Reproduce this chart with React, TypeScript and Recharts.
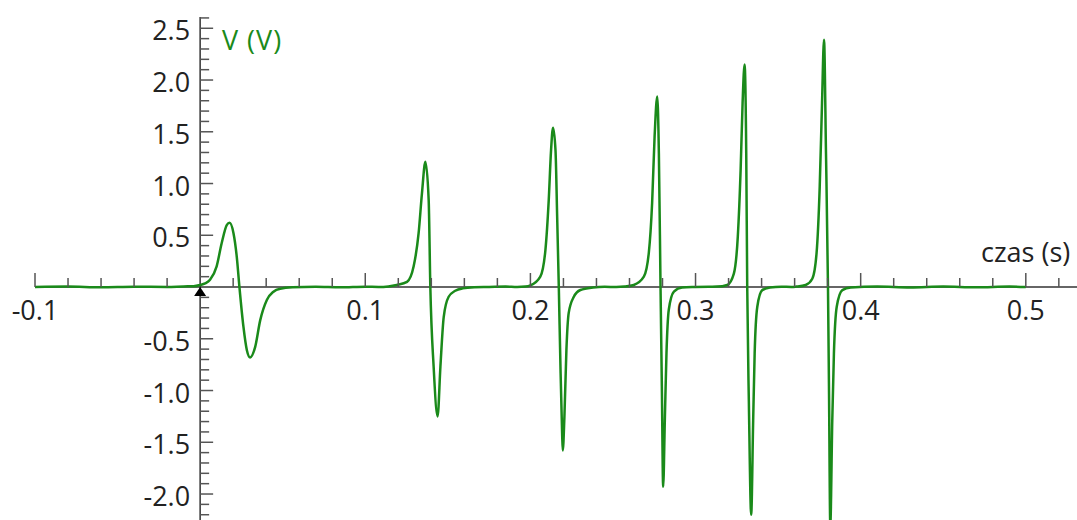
import React from 'react';
import { LineChart, Line, XAxis, YAxis, ReferenceLine, ReferenceDot } from 'recharts';

// time (s), voltage (V)
const baselineBefore = [
  [-0.1, 0.0], [-0.08, 0.004], [-0.06, -0.002], [-0.04, 0.003], [-0.02, 0.0], [-0.01, 0.006], [-0.004, 0.008],
];
const pulse1 = [
  [0.0, 0.02], [0.003, 0.035], [0.006, 0.07], [0.01, 0.2], [0.013, 0.42], [0.0162, 0.6], [0.0178, 0.62],
  [0.0202, 0.52], [0.0222, 0.29], [0.0238, 0.0], [0.0262, -0.38], [0.0283, -0.61], [0.0303, -0.68],
  [0.0333, -0.58], [0.0364, -0.32], [0.0404, -0.125], [0.0444, -0.045], [0.0485, -0.016], [0.056, -0.003],
];
const baselineGap1 = [[0.07, 0.002], [0.085, -0.003], [0.1, 0.003], [0.108, 0.0]];
const pulse2 = [
  [0.114, 0.006], [0.119, 0.02], [0.1253, 0.05], [0.1293, 0.2], [0.1323, 0.52], [0.1343, 0.9], [0.1364, 1.21],
  [0.1384, 0.84], [0.1394, 0.0], [0.1414, -0.77], [0.1438, -1.25], [0.1455, -0.77], [0.1475, -0.29],
  [0.1505, -0.094], [0.1545, -0.036], [0.159, -0.013], [0.166, -0.003],
];
const baselineGap2 = [[0.175, 0.0], [0.185, 0.004], [0.192, 0.0]];
const pulse3 = [
  [0.197, 0.004], [0.2, 0.015], [0.206, 0.1], [0.2091, 0.36], [0.2111, 0.84], [0.2125, 1.32], [0.2137, 1.54],
  [0.2152, 1.32], [0.2162, 0.68], [0.2172, 0.0], [0.2182, -0.77], [0.2192, -1.41], [0.2196, -1.58],
  [0.2206, -1.25], [0.2218, -0.61], [0.2232, -0.25], [0.2263, -0.094], [0.2303, -0.029], [0.238, -0.005],
];
const baselineGap3 = [[0.245, 0.002], [0.252, 0.0]];
const pulse4 = [
  [0.257, 0.004], [0.2626, 0.02], [0.2687, 0.1], [0.2717, 0.33], [0.2737, 0.81], [0.2752, 1.45], [0.2768, 1.84],
  [0.2778, 1.29], [0.2788, 0.0], [0.2796, -0.96], [0.2804, -1.93], [0.2814, -1.29], [0.2824, -0.64],
  [0.2838, -0.22], [0.2869, -0.045], [0.2919, -0.005],
];
const baselineGap4 = [[0.3, 0.0], [0.308, 0.003]];
const pulse5 = [
  [0.313, 0.004], [0.3192, 0.02], [0.3232, 0.13], [0.3256, 0.49], [0.3273, 1.13], [0.3285, 1.78], [0.3297, 2.15],
  [0.3307, 1.29], [0.3313, 0.0], [0.3323, -1.12], [0.3337, -2.2], [0.3349, -1.29], [0.3358, -0.64],
  [0.3374, -0.19], [0.3404, -0.03], [0.345, -0.005],
];
const baselineGap5 = [[0.352, 0.003], [0.358, 0.0]];
const pulse6 = [
  [0.361, 0.004], [0.3667, 0.02], [0.3707, 0.08], [0.3733, 0.33], [0.3752, 0.97], [0.3766, 1.78], [0.3778, 2.39],
  [0.379, 1.29], [0.3802, 0.0], [0.3808, -0.96], [0.3816, -2.3], [0.3828, -1.29], [0.3838, -0.64],
  [0.3855, -0.19], [0.3889, -0.03], [0.394, -0.005],
];
const baselineAfter = [
  [0.41, 0.004], [0.43, -0.004], [0.45, 0.005], [0.47, -0.003], [0.49, 0.004], [0.5, 0.0],
];

const xMajorTicks = [-0.1, 0.1, 0.2, 0.3, 0.4, 0.5];
const xMinorTicks = [
  -0.08, -0.06, -0.04, -0.02, 0.02, 0.04, 0.06, 0.08, 0.12, 0.14, 0.16, 0.18, 0.22, 0.24, 0.26, 0.28,
  0.32, 0.34, 0.36, 0.38, 0.42, 0.44, 0.46, 0.48, 0.52,
];
const yMajorTicks = ['2.5', '2.0', '1.5', '1.0', '0.5', '-0.5', '-1.0', '-1.5', '-2.0'];
const yMinorTicks = [
  2.6, 2.4, 2.3, 2.2, 2.1, 1.9, 1.8, 1.7, 1.6, 1.4, 1.3, 1.2, 1.1, 0.9, 0.8, 0.7, 0.6, 0.4, 0.3, 0.2, 0.1,
  -0.1, -0.2, -0.3, -0.4, -0.6, -0.7, -0.8, -0.9, -1.1, -1.2, -1.3, -1.4, -1.6, -1.7, -1.8, -1.9,
  -2.1, -2.2,
];

const GREEN = '#1a8a1a';
const FONT = '"Open Sans", sans-serif';
const FS = 27;

const data = [
  ...baselineBefore, ...pulse1, ...baselineGap1, ...pulse2, ...baselineGap2, ...pulse3, ...baselineGap3,
  ...pulse4, ...baselineGap4, ...pulse5, ...baselineGap5, ...pulse6, ...baselineAfter,
].map(([t, v]) => ({ t, v }));

const App = () => {
  return (
    <div style={{ position: 'absolute', left: 0, top: 0, width: 1077, height: 520, background: '#fff' }}>
      <LineChart width={1077} height={520} data={data} margin={{ top: 17, right: 0, bottom: 0, left: 35 }}>
        <XAxis type="number" dataKey="t" domain={[-0.1, 0.531]} hide allowDataOverflow />
        <YAxis type="number" domain={[-2.251, 2.609]} hide allowDataOverflow />

        <ReferenceLine y={0} stroke="#333" strokeWidth={1.5} />
        <ReferenceLine x={0} stroke="#333" strokeWidth={1.5} />

        {xMinorTicks.map(t => (
          <ReferenceDot key={`xm${t}`} x={t} y={0} ifOverflow="visible"
            shape={(p: any) => <line x1={p.cx} x2={p.cx} y1={p.cy} y2={p.cy - 9} stroke="#555" strokeWidth={1.5} />} />
        ))}
        {xMajorTicks.map(t => (
          <ReferenceDot key={`xM${t}`} x={t} y={0} ifOverflow="visible"
            shape={(p: any) => (
              <g>
                <line x1={p.cx} x2={p.cx} y1={p.cy} y2={p.cy - 14} stroke="#555" strokeWidth={1.5} />
                <text x={p.cx} y={p.cy + 33} textAnchor="middle" fontSize={FS} fontFamily={FONT} fill="#222">{t}</text>
              </g>
            )} />
        ))}
        {yMinorTicks.map(v => (
          <ReferenceDot key={`ym${v}`} x={0} y={v} ifOverflow="visible"
            shape={(p: any) => <line x1={p.cx} x2={p.cx + 9} y1={p.cy} y2={p.cy} stroke="#555" strokeWidth={1.5} />} />
        ))}
        {yMajorTicks.map(v => (
          <ReferenceDot key={`yM${v}`} x={0} y={Number(v)} ifOverflow="visible"
            shape={(p: any) => (
              <g>
                <line x1={p.cx} x2={p.cx + 13} y1={p.cy} y2={p.cy} stroke="#555" strokeWidth={1.5} />
                <text x={p.cx - 10} y={p.cy + 12} textAnchor="end" fontSize={FS} fontFamily={FONT} fill="#222">{v}</text>
              </g>
            )} />
        ))}

        <Line type="monotone" dataKey="v" stroke={GREEN} strokeWidth={2.5} dot={false} isAnimationActive={false} />

        <ReferenceDot x={0} y={0} ifOverflow="visible"
          shape={(p: any) => <polygon points={`${p.cx},${p.cy} ${p.cx - 6},${p.cy + 9} ${p.cx + 6},${p.cy + 9}`} fill="#000" />} />
      </LineChart>
      <svg width={1077} height={520} style={{ position: 'absolute', left: 0, top: 0, pointerEvents: 'none' }}>
        <text x={222} y={50} fontSize={FS} fontFamily={FONT} fill={GREEN} letterSpacing={1}>V (V)</text>
        <text x={981} y={262} fontSize={FS} fontFamily={FONT} fill="#222">czas (s)</text>
      </svg>
    </div>
  );
};

export default App;
